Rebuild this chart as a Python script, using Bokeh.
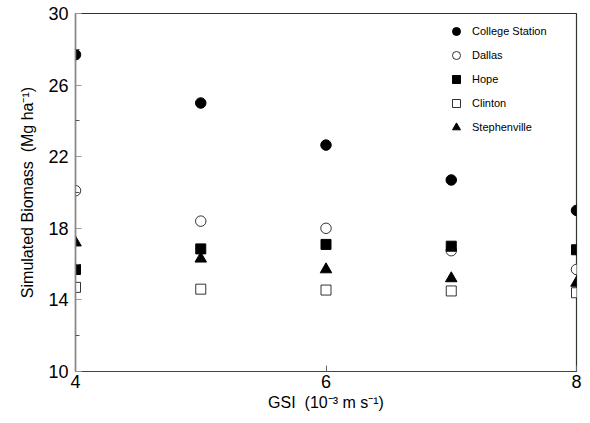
from bokeh.plotting import figure
from bokeh.models import FixedTicker, Range1d, Legend, LegendItem
from bokeh.embed import file_html
from bokeh.resources import INLINE

gsi = [4, 5, 6, 7, 8]
college_station = [27.7, 25.0, 22.65, 20.7, 19.0]
dallas = [20.1, 18.4, 18.0, 16.75, 15.7]
hope = [15.7, 16.85, 17.1, 17.0, 16.8]
clinton = [14.7, 14.6, 14.55, 14.5, 14.4]
stephenville = [17.2, 16.3, 15.7, 15.2, 14.95]

y_ticks = [10, 14, 18, 22, 26, 30]
y_minor = [12, 16, 20, 24, 28]
x_ticks = [4, 6, 8]

FONT = "Liberation Sans"

p = figure(width=582, height=415, output_backend="svg", toolbar_location=None,
           x_range=Range1d(4, 8), y_range=Range1d(10, 30),
           min_border_left=75, min_border_right=6, min_border_top=13, min_border_bottom=44)
p.grid.visible = False
p.outline_line_color = "#333333"
p.outline_line_width = 1.2

p.xaxis.ticker = FixedTicker(ticks=x_ticks)
p.yaxis.ticker = FixedTicker(ticks=y_ticks, minor_ticks=y_minor)
for ax in (p.xaxis, p.yaxis):
    ax.major_tick_in = 6
    ax.major_tick_out = 0
    ax.minor_tick_in = 4
    ax.minor_tick_out = 0
    ax.major_label_text_font = FONT
    ax.major_label_text_font_size = "18px"
    ax.major_label_text_color = "#000000"
    ax.axis_label_text_font = FONT
    ax.axis_label_text_font_size = "16px"
    ax.axis_label_text_font_style = "normal"
    ax.axis_label_text_color = "#000000"
p.xaxis.minor_tick_line_color = None
p.xaxis.axis_line_color = "#444444"
p.xaxis.major_tick_line_color = "#666666"
p.yaxis.axis_line_color = "#888888"
p.yaxis.axis_line_width = 1.5
p.yaxis.major_tick_line_color = "#999999"
p.yaxis.minor_tick_line_color = "#555555"
p.yaxis.major_label_standoff = 7
p.xaxis.major_label_standoff = 3
p.xaxis.axis_label = "GSI\u00a0\u00a0(10⁻³ m s⁻¹)"
p.yaxis.axis_label = "Simulated Biomass\u00a0\u00a0(Mg ha⁻¹)"
p.xaxis.axis_label_standoff = 3
p.yaxis.axis_label_standoff = 9

r1 = p.scatter(gsi, college_station, marker="circle", size=10.5, fill_color="black", line_color="black")
r2 = p.scatter(gsi, dallas, marker="circle", size=10.5, fill_color="white", line_color="black", line_width=0.8)
r3 = p.scatter(gsi, hope, marker="square", size=10, fill_color="black", line_color="black")
r4 = p.scatter(gsi, clinton, marker="square", size=10, fill_color="white", line_color="black", line_width=0.8)
r5 = p.scatter(gsi, stephenville, marker="triangle", size=11.5, fill_color="black", line_color="black")

legend = Legend(items=[
    LegendItem(label="College Station", renderers=[r1]),
    LegendItem(label="Dallas", renderers=[r2]),
    LegendItem(label="Hope", renderers=[r3]),
    LegendItem(label="Clinton", renderers=[r4]),
    LegendItem(label="Stephenville", renderers=[r5]),
], location=(371, 234))
legend.border_line_color = None
legend.background_fill_alpha = 0
legend.label_text_font = FONT
legend.label_text_font_size = "11px"
legend.label_text_color = "#000000"
legend.glyph_width = 20
legend.glyph_height = 20
legend.label_height = 20
legend.spacing = 4
legend.padding = 0
legend.margin = 0
legend.label_standoff = 6
p.add_layout(legend, "center")

open("out.html", "w").write(file_html(p, INLINE))
